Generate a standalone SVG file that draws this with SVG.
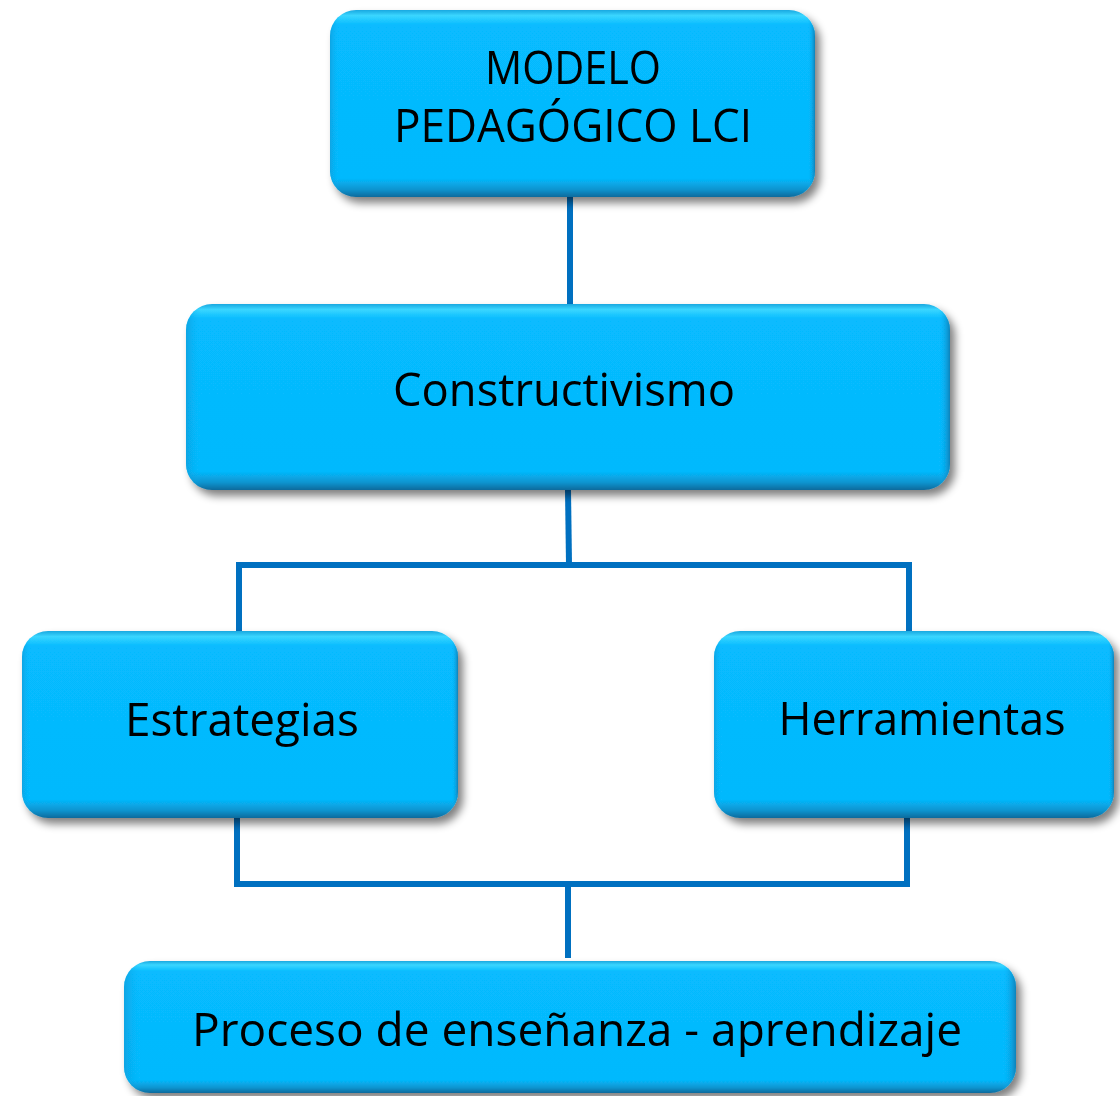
<svg xmlns="http://www.w3.org/2000/svg" width="1120" height="1096" viewBox="0 0 1120 1096">
  <defs>
    <filter id="shadow" x="-10%" y="-10%" width="125%" height="130%">
      <feGaussianBlur in="SourceAlpha" stdDeviation="4"/>
      <feOffset dx="5" dy="6" result="b"/>
      <feComponentTransfer><feFuncA type="linear" slope="0.5"/></feComponentTransfer>
      <feMerge><feMergeNode/><feMergeNode in="SourceGraphic"/></feMerge>
    </filter>
    <linearGradient id="bevel" x1="0" y1="0" x2="0" y2="1">
      <stop offset="0" stop-color="#1aa8e0"/>
      <stop offset="0.03" stop-color="#3ad6ff"/>
      <stop offset="0.08" stop-color="#07bbff"/>
      <stop offset="0.9" stop-color="#05b9fd"/>
      <stop offset="0.96" stop-color="#0a94cf"/>
      <stop offset="1" stop-color="#0a6a9c"/>
    </linearGradient>
    <linearGradient id="bevelH" x1="0" y1="0" x2="1" y2="0">
      <stop offset="0" stop-color="#0a8fc8" stop-opacity="0.5"/>
      <stop offset="0.02" stop-color="#07bbff" stop-opacity="0"/>
      <stop offset="0.985" stop-color="#07bbff" stop-opacity="0"/>
      <stop offset="1" stop-color="#0a6a9c" stop-opacity="0.7"/>
    </linearGradient>
  </defs>
  <style>
    .box { fill: url(#bevel); }
    .edge { fill: url(#bevelH); }
    .lbl { font-family: "Open Sans", "DejaVu Sans", sans-serif; font-size: 46px; fill: #000; text-anchor: middle; }
    .conn { stroke: #0070c0; stroke-width: 6; fill: none; }
  </style>
  <rect width="1120" height="1096" fill="#ffffff"/>

  <g id="connectors">
    <line class="conn" x1="570" y1="195" x2="570" y2="306"/>
    <polyline class="conn" points="568,490 569,564"/>
    <polyline class="conn" points="239,632 239,565 909,565 909,632"/>
    <polyline class="conn" points="237,818 237,884 907,884 907,818"/>
    <line class="conn" x1="568" y1="884" x2="568" y2="958"/>
  </g>

  <g id="node-modelo" filter="url(#shadow)">
    <rect class="box" x="330" y="10" width="485" height="187" rx="26"/>
    <rect class="edge" x="330" y="10" width="485" height="187" rx="26"/>
    <text class="lbl" x="573" y="84" textLength="176" lengthAdjust="spacingAndGlyphs">MODELO</text>
    <text class="lbl" x="573" y="142" textLength="358" lengthAdjust="spacingAndGlyphs">PEDAGÓGICO LCI</text>
  </g>

  <g id="node-constructivismo" filter="url(#shadow)">
    <rect class="box" x="186" y="304" width="764" height="186" rx="26"/>
    <rect class="edge" x="186" y="304" width="764" height="186" rx="26"/>
    <text class="lbl" x="564" y="406" textLength="342" lengthAdjust="spacingAndGlyphs">Constructivismo</text>
  </g>

  <g id="node-estrategias" filter="url(#shadow)">
    <rect class="box" x="22" y="631" width="436" height="187" rx="26"/>
    <rect class="edge" x="22" y="631" width="436" height="187" rx="26"/>
    <text class="lbl" x="242" y="736" textLength="234" lengthAdjust="spacingAndGlyphs">Estrategias</text>
  </g>

  <g id="node-herramientas" filter="url(#shadow)">
    <rect class="box" x="714" y="631" width="400" height="187" rx="26"/>
    <rect class="edge" x="714" y="631" width="400" height="187" rx="26"/>
    <text class="lbl" x="922" y="735" textLength="287" lengthAdjust="spacingAndGlyphs">Herramientas</text>
  </g>

  <g id="node-proceso" filter="url(#shadow)">
    <rect class="box" x="124" y="961" width="892" height="132" rx="26"/>
    <rect class="edge" x="124" y="961" width="892" height="132" rx="26"/>
    <text class="lbl" x="577" y="1046" textLength="770" lengthAdjust="spacingAndGlyphs">Proceso de enseñanza - aprendizaje</text>
  </g>
</svg>
